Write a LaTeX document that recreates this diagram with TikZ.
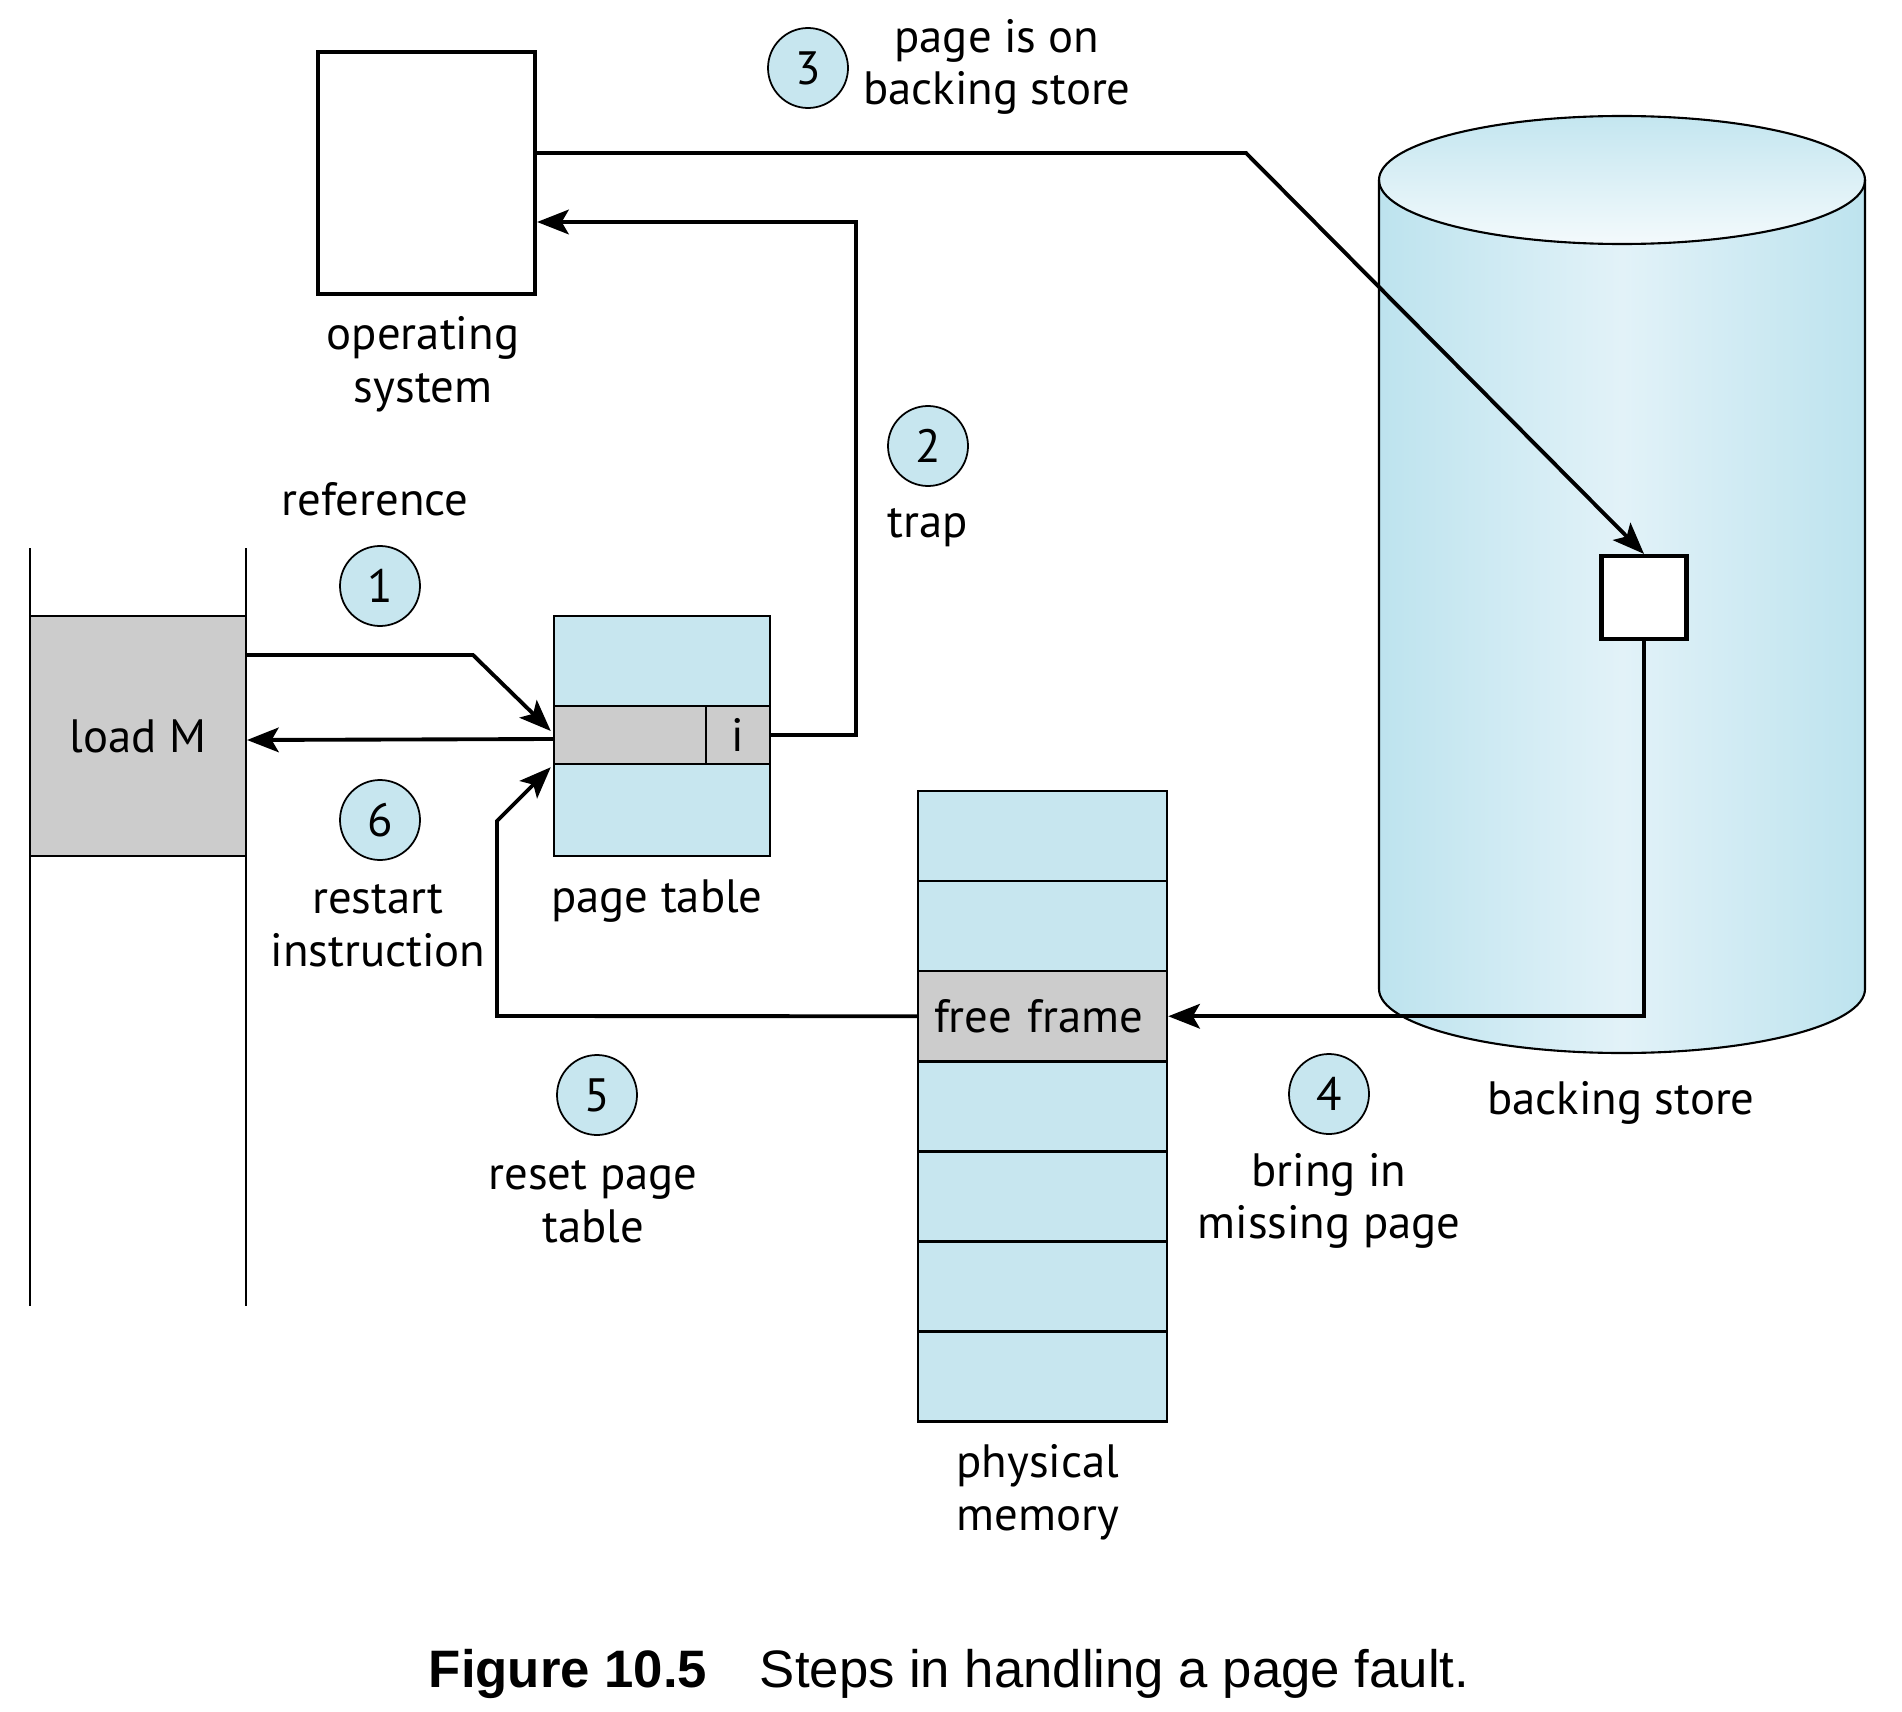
\documentclass[tikz,border=0pt]{standalone}
\usepackage{fontspec}
\setmainfont{PT Sans}
\newfontfamily\capfont{Liberation Sans}
\usepackage{tikz}
\usetikzlibrary{calc}
\usetikzlibrary{arrows.meta}
\usepackage{xcolor}

\definecolor{tblue}{RGB}{199,230,239}
\definecolor{cblue}{RGB}{189,227,238}
\definecolor{clight}{RGB}{226,242,248}
\definecolor{tgray}{RGB}{204,204,204}

\begin{document}
\begin{tikzpicture}[font=\fontsize{13.3}{15}\selectfont,
stepcircle/.style={circle,draw,fill=tblue,line width=0.5pt,minimum size=0.80cm,inner sep=0pt},
cell/.style={rectangle,draw,line width=0.7pt,fill=tblue,minimum width=2.49cm,minimum height=0.901cm,inner sep=0pt},
arr/.style={line width=1.1pt,-{Stealth[length=9pt,width=7pt,inset=2pt]}},
lbl/.style={align=center,inner sep=0pt}]
\useasboundingbox (0,0) rectangle (19.02,-17.12);

% backing store
\shade[left color=cblue,right color=cblue,middle color=clight]
  (13.79,-1.80) -- (13.79,-9.89) arc[start angle=180,end angle=360,x radius=2.43,y radius=0.64]
  -- (18.65,-1.80) -- cycle;
\shade[top color=cblue!90,bottom color=clight!40] (16.22,-1.80) ellipse[x radius=2.43,y radius=0.64];
\draw[line width=0.6pt] (16.22,-1.80) ellipse[x radius=2.43,y radius=0.64];
\draw[line width=0.6pt] (13.79,-1.80) -- (13.79,-9.89) arc[start angle=180,end angle=360,x radius=2.43,y radius=0.64] -- (18.65,-1.80);
\node[lbl] (bslbl) at (16.21,-11.03) {backing store};
\node (blk) [rectangle,draw,fill=white,line width=1.2pt,minimum width=0.85cm,minimum height=0.83cm] at (16.44,-5.975) {};

% operating system
\node (os) [rectangle,draw,fill=white,line width=1.2pt,minimum width=2.17cm,minimum height=2.42cm] at (4.265,-1.73) {};
\node[lbl] (oslbl) at (4.23,-3.64) {operating\\system};

% program
\draw[line width=0.6pt] (0.30,-5.48) -- (0.30,-13.06);
\draw[line width=0.6pt] (2.46,-5.48) -- (2.46,-13.06);
\node (loadm) [rectangle,draw,fill=tgray,line width=0.6pt,minimum width=2.16cm,minimum height=2.40cm] at (1.38,-7.36) {load M};

% page table
\node (ptable) [rectangle,draw,fill=tblue,line width=0.7pt,minimum width=2.16cm,minimum height=2.40cm] at (6.62,-7.36) {};
\node (prow) [rectangle,draw,fill=tgray,line width=0.7pt,minimum width=2.16cm,minimum height=0.58cm] at (6.62,-7.35) {};
\node (pbit) [rectangle,draw,fill=tgray,line width=0.7pt,minimum width=0.64cm,minimum height=0.58cm] at (7.38,-7.35) {i};
\node[lbl] (ptlbl) at (6.57,-9.01) {page table};

% physical memory
\foreach \i in {0,1,3,4,5,6}
  \node (m\i) [cell] at (10.425,{-7.91-0.901*(\i+0.5)}) {};
\node (free) [cell,fill=tgray,text width=2.17cm,align=left] at (10.425,{-7.91-0.901*2.5}) {free frame};
\node[lbl] (pmlbl) at (10.38,-14.92) {physical\\memory};

% steps
\node (c1) [stepcircle] at (3.80,-5.86) {1};
\node (c2) [stepcircle] at (9.28,-4.46) {2};
\node (c3) [stepcircle] at (8.08,-0.68) {3};
\node (c4) [stepcircle] at (13.29,-10.94) {4};
\node (c5) [stepcircle] at (5.97,-10.95) {5};
\node (c6) [stepcircle] at (3.80,-8.20) {6};
\node[lbl] at (3.75,-4.99) {reference};
\node[lbl] at (9.28,-5.28) {trap};
\node[lbl] at (9.97,-0.67) {page is on\\backing store};
\node[lbl] at (13.29,-12.01) {bring in\\missing page};
\node[lbl] at (5.93,-12.02) {reset page\\table};
\node[lbl] at (3.78,-9.26) {restart\\instruction};

% connectors
\draw[arr] ($(loadm.east)+(0,0.81)$) -- (4.73,-6.55) -- ($(prow.west)+(-0.02,0.04)$);
\draw[arr] (pbit.east) -- ++(0.85,0) |- ($(os.east)+(0,-0.49)$);
\draw[arr] ($(os.east)+(0,0.20)$) -- (12.46,-1.53) -- (blk.north);
\draw[arr] (blk.south) |- (free.east);
\draw[arr] (free.west) -- (4.97,-10.16) -- (4.97,-8.21) -- ($(prow.south west)+(-0.02,-0.02)$);
\draw[arr] ($(prow.west)+(0,-0.04)$) -- ($(loadm.east)+(0,-0.04)$);

% caption
\node[lbl,font=\capfont\fontsize{15}{17}\selectfont] (cap) at (9.49,-16.74) {\textbf{Figure 10.5}\quad Steps in handling a page fault.};
\end{tikzpicture}
\end{document}
